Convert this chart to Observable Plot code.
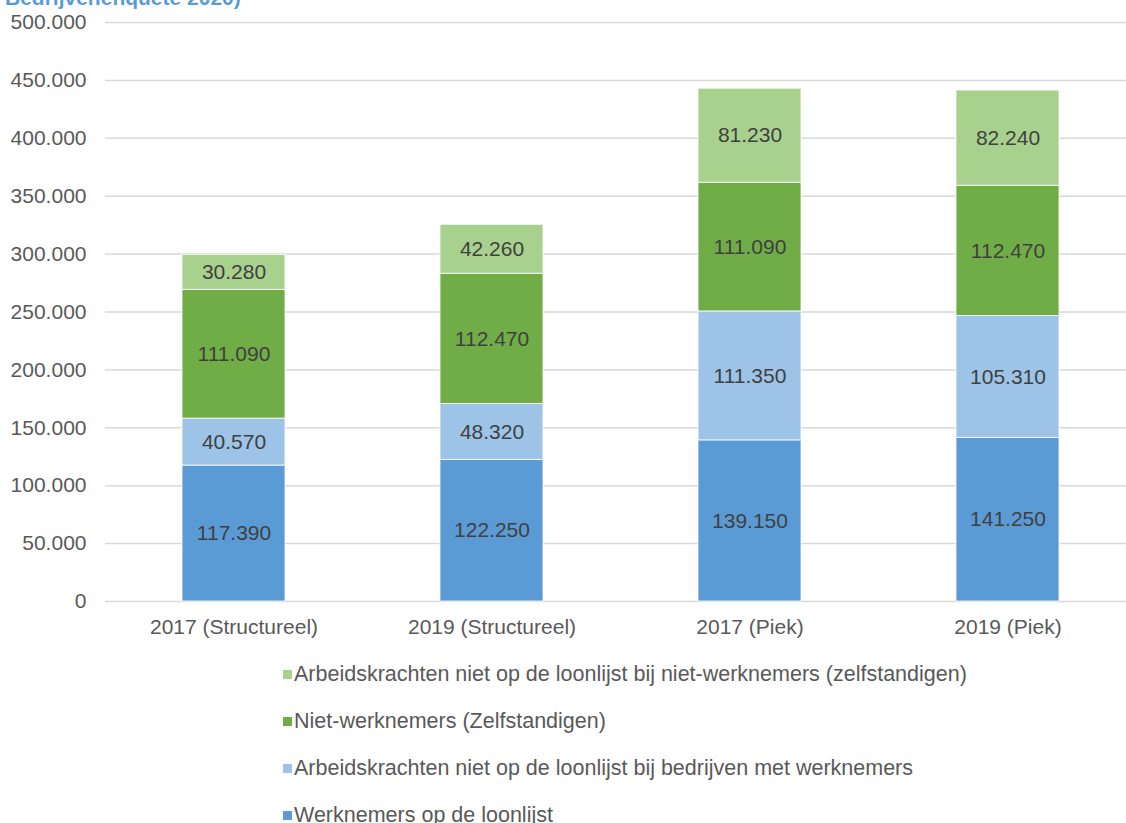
<!DOCTYPE html>
<html>
<head>
<meta charset="utf-8">
<script src="https://cdn.jsdelivr.net/npm/d3@7"></script>
<script src="https://cdn.jsdelivr.net/npm/@observablehq/plot@0.6"></script>
<style>
  html, body { margin: 0; padding: 0; background: #fff; }
  body { width: 1126px; height: 823px; overflow: hidden; position: relative; font-family: "Liberation Sans", Arial, sans-serif; }
  #title { position: absolute; left: 5px; top: -13px; font-size: 21px; line-height: 21px; font-weight: bold; color: #5B9BD5; white-space: nowrap; z-index: 2; }
  #chart svg { display: block; }
  #legend { padding-top: 6px; padding-left: 283px; }
  .row { height: 47px; display: flex; align-items: center; font-size: 21.5px; color: #595959; white-space: nowrap; }
  .sw { width: 9px; height: 9px; margin-right: 2px; flex: none; }
</style>
</head>
<body>
<div id="title">Bedrijvenenquête 2020)</div>
<div id="chart"></div>
<div id="legend"></div>
<script>
const categories = ["2017 (Structureel)", "2019 (Structureel)", "2017 (Piek)", "2019 (Piek)"];
const seriesNames = [
  "Werknemers op de loonlijst",
  "Arbeidskrachten niet op de loonlijst bij bedrijven met werknemers",
  "Niet-werknemers (Zelfstandigen)",
  "Arbeidskrachten niet op de loonlijst bij niet-werknemers (zelfstandigen)"
];
const werknemers = [117390, 122250, 139150, 141250];
const nietLoonlijstBedrijven = [40570, 48320, 111350, 105310];
const nietWerknemers = [111090, 112470, 111090, 112470];
const nietLoonlijstZelfstandigen = [30280, 42260, 81230, 82240];
const seriesColors = ["#5B9BD5", "#9DC3E6", "#70AD47", "#A9D18E"];
const yTicks = [0, 50000, 100000, 150000, 200000, 250000, 300000, 350000, 400000, 450000, 500000];

const seriesValues = [werknemers, nietLoonlijstBedrijven, nietWerknemers, nietLoonlijstZelfstandigen];
const data = [];
seriesNames.forEach((s, si) => {
  categories.forEach((c, ci) => data.push({cat: c, series: s, value: seriesValues[si][ci]}));
});

const nl = d3.formatLocale({decimal: ",", thousands: ".", grouping: [3], currency: ["€", ""]});
const fmt = nl.format(",d");

const chart = Plot.plot({
  width: 1126,
  height: 645,
  marginLeft: 105,
  marginRight: 0,
  marginTop: 22,
  marginBottom: 44,
  style: {fontFamily: "'Liberation Sans', Arial, sans-serif", fontSize: "21px", color: "#595959", background: "white"},
  x: {domain: categories, range: [104, 1137], paddingInner: 0.6, paddingOuter: 0.3, label: null, tickSize: 0, tickPadding: 18},
  y: {domain: [0, 500000], ticks: yTicks, tickFormat: fmt, tickSize: 0, tickPadding: 19, label: null},
  color: {domain: seriesNames, range: seriesColors},
  marks: [
    Plot.gridY(yTicks, {stroke: "#d9d9d9", strokeOpacity: 1, strokeWidth: 1.5}),
    Plot.barY(data, Plot.stackY({x: "cat", y: "value", z: "series", fill: "series", stroke: "white", strokeWidth: 1, strokeOpacity: 0.8})),
    Plot.text(data, Plot.stackY({x: "cat", y: "value", z: "series", text: d => fmt(d.value), fill: "#404040", fontSize: 21}))
  ]
});
document.getElementById("chart").appendChild(chart);

const legend = document.getElementById("legend");
for (let i = seriesNames.length - 1; i >= 0; i--) {
  const row = document.createElement("div");
  row.className = "row";
  const sw = document.createElement("span");
  sw.className = "sw";
  sw.style.background = seriesColors[i];
  const t = document.createElement("span");
  t.textContent = seriesNames[i];
  row.appendChild(sw);
  row.appendChild(t);
  legend.appendChild(row);
}
</script>
</body>
</html>
